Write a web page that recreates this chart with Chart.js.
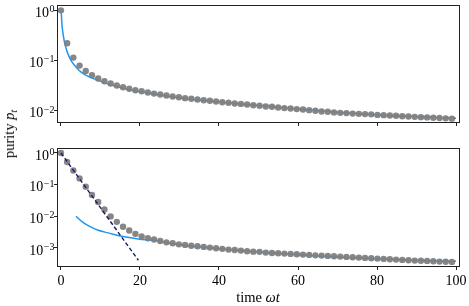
<!DOCTYPE html>
<html><head><meta charset="utf-8">
<script src="https://cdn.jsdelivr.net/npm/chart.js@4.4.1/dist/chart.umd.min.js"></script>
<style>
html,body{margin:0;padding:0;background:#fff;width:469px;height:306px;overflow:hidden;position:relative;font-family:'Liberation Serif',serif;color:#000}
#c1{position:absolute;left:0;top:0}
#c2{position:absolute;left:0;top:140px}
.ylab{position:absolute;left:10px;top:134px;transform:translate(-50%,-50%) rotate(-90deg);font-size:14.5px;white-space:nowrap}
.xlab{position:absolute;left:258px;top:297px;transform:translate(-50%,-50%);font-size:14.5px;white-space:nowrap}
sub{font-size:10px;vertical-align:-3px}
</style>
</head><body>
<canvas id="c1" width="469" height="130"></canvas>
<canvas id="c2" width="469" height="166"></canvas>
<div class="ylab">purity <i>p</i><sub><i>t</i></sub></div>
<div class="xlab">time <i>ωt</i></div>
<script>
// ---- data ----
const times = [0,1.57,3.14,4.71,6.28,7.85,9.42,11.0,12.57,14.14,15.71,17.28,18.85,20.42,21.99,23.56,25.13,26.7,28.27,29.85,31.42,32.99,34.56,36.13,37.7,39.27,40.84,42.41,43.98,45.55,47.12,48.69,50.27,51.84,53.41,54.98,56.55,58.12,59.69,61.26,62.83,64.4,65.97,67.54,69.12,70.69,72.26,73.83,75.4,76.97,78.54,80.11,81.68,83.25,84.82,86.39,87.96,89.54,91.11,92.68,94.25,95.82,97.39,98.96];
const topDots = [1.0,0.22,0.114,0.079,0.062,0.0507,0.0436,0.0385,0.0347,0.0316,0.0292,0.0272,0.0255,0.0243,0.0229,0.0218,0.0209,0.0200,0.0191,0.0185,0.0177,0.0172,0.0166,0.0161,0.0157,0.0152,0.0147,0.0143,0.0138,0.0136,0.0132,0.0128,0.0125,0.0121,0.0119,0.0115,0.0112,0.0110,0.0107,0.0105,0.0102,0.0099,0.0096,0.0095,0.0092,0.0090,0.0089,0.0087,0.0086,0.0085,0.0084,0.0082,0.0081,0.0080,0.0079,0.0077,0.0076,0.0075,0.0074,0.0073,0.0072,0.0071,0.0070,0.0069];
const bottomDots = [1.0,0.52,0.28,0.157,0.086,0.047,0.028,0.0162,0.0098,0.0066,0.0046,0.0035,0.00275,0.00229,0.0020,0.00183,0.00164,0.00148,0.00138,0.00128,0.00123,0.00116,0.00111,0.00106,0.00101,0.00096,0.00092,0.00087,0.00085,0.00081,0.00077,0.00075,0.00074,0.00070,0.00068,0.000665,0.00065,0.000637,0.000618,0.000605,0.000592,0.000574,0.000562,0.00055,0.000535,0.000523,0.000512,0.000497,0.000486,0.000475,0.000462,0.000452,0.000442,0.00043,0.00042,0.000411,0.000399,0.000391,0.000385,0.000382,0.000372,0.000363,0.00036,0.000355];
const topLineT = [0,0.08,0.25,0.5,0.85,1.27,1.85,2.7,4.0,5.2,6.9,9.4,12,15,20,25,30,35,40,45,50,60,70,80,90,100];
const topLineV = [1,0.89,0.52,0.355,0.24,0.178,0.131,0.096,0.071,0.058,0.048,0.040,0.034,0.029,0.0240,0.0205,0.0180,0.0162,0.0148,0.0136,0.0126,0.0107,0.0093,0.0082,0.0076,0.0070];
const bottomLineT = [3.8,5.24,6.91,9.44,11.97,15.37,19.57,23.8,30,40,50,60,70,80,90,100];
const bottomLineV = [0.0099,0.00685,0.0050,0.00356,0.00295,0.00231,0.0019,0.00168,0.00124,0.00093,0.00073,0.00060,0.000505,0.00045,0.00040,0.00037];
const dashT = [0,19.6];
const dashV = [1,0.0004];
const xTicks = [0,20,40,60,80,100];
const yTicksTop = [1,0.1,0.01];
const yTicksBottom = [1,0.1,0.01,0.001];

// ---- helpers ----
const pts = (xs, ys) => xs.map((x,i)=>({x:x,y:ys[i]}));
const FAM = "'Liberation Serif', 'DejaVu Serif', serif";
const FONT = {family:FAM, size:14};
const FRAME = '#222';
const frame = {id:'frame', afterDraw(c){ const a=c.chartArea, ctx=c.ctx; ctx.save(); ctx.strokeStyle=FRAME; ctx.lineWidth=1;
  ctx.strokeRect(Math.round(a.left)+0.5, Math.round(a.top)+0.5, Math.round(a.right-a.left)-1, Math.round(a.bottom-a.top)-1); ctx.restore(); }};
// power-of-ten tick labels (10 with raised exponent), placed via the y scale
const powLabels = {id:'powLabels', afterDraw(c){ const s=c.scales.y, ctx=c.ctx; ctx.save(); ctx.fillStyle='#000'; ctx.textAlign='right'; ctx.textBaseline='alphabetic';
  const right = s.left + s.width - 2.5;
  s.ticks.forEach(t=>{ const y = s.getPixelForValue(t.value); const e = Math.round(Math.log10(t.value));
    const exp = e < 0 ? '\u2212' + String(-e) : String(e);
    ctx.font = '10px ' + FAM; const w = ctx.measureText(exp).width;
    ctx.fillText(exp, right, y + 2.0);
    ctx.font = '14px ' + FAM; ctx.fillText('10', right - w - 0.5, y + 6.8); });
  ctx.restore(); }};

function makeChart(id, dots, lineT, lineV, yTicks, yMin, yMax, showXLabels, xHeight, padTop, withDash){
  const datasets = [
    {data: pts(times, dots), showLine:false, pointRadius:3.2, pointBackgroundColor:'rgba(128,128,128,0.95)', pointBorderWidth:0, order:1},
    {data: pts(lineT, lineV), borderColor:'#1e98ee', borderWidth:1.5, pointRadius:0, cubicInterpolationMode:'monotone', order:2}
  ];
  if (withDash) datasets.push({data: pts(dashT, dashV), borderColor:'#1b1b66', borderWidth:1.4, borderDash:[4,2.5], pointRadius:0, order:0});
  return new Chart(document.getElementById(id), {
    type:'line',
    data:{datasets},
    options:{
      responsive:false, animation:false, devicePixelRatio:1,
      layout:{padding:{left:0, right:9, top:padTop, bottom:0}},
      plugins:{legend:{display:false}, tooltip:{enabled:false}},
      scales:{
        x:{type:'linear', min:-1, max:101,
           afterBuildTicks:s=>{s.ticks = xTicks.map(v=>({value:v}));},
           afterFit:s=>{s.height = xHeight; s.paddingLeft=0; s.paddingRight=0;},
           grid:{display:true, drawOnChartArea:false, drawTicks:true, tickLength:3, tickColor:FRAME, lineWidth:1},
           border:{display:false},
           ticks:{display:showXLabels, autoSkip:false, maxRotation:0, padding:3, color:'#000', font:FONT, callback:v=>String(v)}},
        y:{type:'logarithmic', min:yMin, max:yMax,
           afterBuildTicks:s=>{s.ticks = yTicks.map(v=>({value:v}));},
           afterFit:s=>{s.width = 57;},
           grid:{display:true, drawOnChartArea:false, drawTicks:true, tickLength:3, tickColor:FRAME, lineWidth:1},
           border:{display:false},
           ticks:{display:false, autoSkip:false}}
      }
    },
    plugins:[frame, powLabels]
  });
}
makeChart('c1', topDots, topLineT, topLineV, yTicksTop, 0.00565, 1.28, false, 7, 5, false);
makeChart('c2', bottomDots, bottomLineT, bottomLineV, yTicksBottom, 0.000245, 1.44, true, 39, 8, true);
</script>
</body></html>
